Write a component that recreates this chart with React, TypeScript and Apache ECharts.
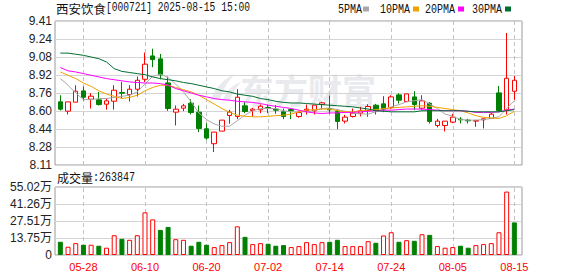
import React, { useEffect, useRef } from "react";
import * as echarts from "echarts";

const dates = ["05-23","05-26","05-27","05-28","05-29","05-30","06-03","06-04","06-05","06-06","06-09","06-10","06-11","06-12","06-13","06-16","06-17","06-18","06-19","06-20","06-23","06-24","06-25","06-26","06-27","06-30","07-01","07-02","07-03","07-04","07-07","07-08","07-09","07-10","07-11","07-14","07-15","07-16","07-17","07-18","07-21","07-22","07-23","07-24","07-25","07-28","07-29","07-30","07-31","08-01","08-04","08-05","08-06","08-07","08-08","08-11","08-12","08-13","08-14","08-15"];
const xTickDates = ["05-28","06-10","06-20","07-02","07-14","07-24","08-05","08-15"];

const opens = [8.68,8.596,8.677,8.779,8.704,8.698,8.659,8.686,8.764,8.746,8.794,8.884,9.095,9.068,8.851,8.587,8.623,8.668,8.587,8.437,8.302,8.416,8.557,8.548,8.644,8.602,8.608,8.629,8.614,8.59,8.61,8.548,8.602,8.599,8.656,8.617,8.593,8.506,8.548,8.578,8.602,8.65,8.662,8.629,8.743,8.683,8.725,8.623,8.668,8.467,8.467,8.497,8.524,8.515,8.506,8.518,8.53,8.761,8.608,8.776];
const closes = [8.614,8.68,8.776,8.722,8.731,8.656,8.689,8.785,8.758,8.794,8.875,9.02,9.062,8.924,8.62,8.614,8.644,8.584,8.44,8.353,8.407,8.515,8.587,8.722,8.593,8.614,8.641,8.62,8.605,8.548,8.6,8.584,8.614,8.65,8.671,8.608,8.503,8.542,8.578,8.6,8.638,8.602,8.614,8.725,8.695,8.752,8.656,8.689,8.503,8.506,8.506,8.542,8.518,8.509,8.512,8.527,8.569,8.602,8.893,8.875];
const highs = [8.74,8.68,8.83,8.818,8.758,8.77,8.71,8.83,8.86,8.83,8.908,9.125,9.16,9.113,8.908,8.647,8.662,8.704,8.647,8.488,8.407,8.515,8.608,8.794,8.677,8.626,8.656,8.656,8.65,8.62,8.62,8.6,8.656,8.65,8.68,8.737,8.614,8.563,8.62,8.635,8.659,8.662,8.731,8.74,8.758,8.752,8.776,8.74,8.677,8.527,8.506,8.572,8.542,8.527,8.518,8.53,8.578,8.824,9.302,8.914];
const lows = [8.602,8.566,8.677,8.692,8.62,8.647,8.61,8.61,8.713,8.683,8.728,8.86,8.993,8.884,8.599,8.467,8.596,8.566,8.407,8.338,8.227,8.416,8.482,8.524,8.578,8.548,8.578,8.578,8.572,8.524,8.524,8.536,8.566,8.566,8.611,8.572,8.434,8.485,8.539,8.548,8.545,8.566,8.587,8.614,8.665,8.683,8.605,8.608,8.485,8.449,8.413,8.488,8.485,8.485,8.455,8.44,8.53,8.593,8.566,8.698];

const ma5 = [8.89,8.83,8.76,8.7,8.7,8.71,8.71,8.72,8.73,8.74,8.77,8.84,8.91,8.93,8.9,8.84,8.77,8.68,8.58,8.52,8.48,8.46,8.46,8.51,8.56,8.6,8.62,8.62,8.62,8.6,8.59,8.59,8.59,8.6,8.62,8.625,8.61,8.595,8.58,8.57,8.57,8.59,8.605,8.635,8.655,8.68,8.69,8.7,8.66,8.62,8.57,8.55,8.52,8.515,8.515,8.52,8.53,8.545,8.62,8.69];
const ma10 = [8.95,8.92,8.89,8.85,8.82,8.78,8.75,8.73,8.71,8.72,8.74,8.78,8.81,8.83,8.83,8.81,8.79,8.77,8.74,8.7,8.66,8.62,8.585,8.56,8.55,8.545,8.545,8.55,8.555,8.56,8.57,8.59,8.605,8.61,8.615,8.615,8.6,8.59,8.59,8.6,8.605,8.61,8.62,8.625,8.63,8.635,8.64,8.645,8.64,8.63,8.62,8.61,8.6,8.58,8.555,8.54,8.535,8.53,8.555,8.595];
const ma20 = [8.99,8.96,8.95,8.935,8.92,8.905,8.89,8.88,8.87,8.86,8.855,8.85,8.85,8.845,8.83,8.8,8.78,8.76,8.74,8.725,8.71,8.7,8.695,8.685,8.68,8.675,8.665,8.65,8.64,8.63,8.62,8.605,8.59,8.58,8.575,8.58,8.58,8.585,8.585,8.59,8.595,8.6,8.605,8.605,8.61,8.615,8.615,8.615,8.61,8.605,8.6,8.6,8.6,8.595,8.585,8.585,8.585,8.59,8.605,8.615];
const ma30 = [9.12,9.12,9.11,9.1,9.085,9.07,9.04,8.98,8.955,8.945,8.935,8.925,8.905,8.89,8.88,8.87,8.855,8.845,8.83,8.815,8.8,8.78,8.77,8.75,8.74,8.73,8.71,8.7,8.685,8.675,8.67,8.67,8.665,8.66,8.655,8.65,8.645,8.64,8.635,8.625,8.615,8.6,8.595,8.59,8.59,8.59,8.59,8.6,8.6,8.6,8.6,8.6,8.6,8.595,8.59,8.59,8.59,8.59,8.6,8.61];

// volume in 万 (10k lots)
const volumes = [10.7,6.7,9.6,8.3,8.3,7.5,5.9,16.0,13.1,12.3,16.0,34.5,28.8,20.3,22.7,12.8,12.3,7.5,10.7,8.3,6.4,8.0,10.4,23.2,14.7,8.8,9.6,9.1,7.5,8.0,6.4,7.2,10.4,8.8,10.4,10.7,12.3,7.2,7.2,7.2,11.2,9.9,15.8,18.4,10.7,12.0,11.5,16.8,16.3,7.2,5.9,6.4,7.5,5.9,8.0,8.8,9.6,18.4,51.3,26.3847];
const volUp = [0,1,1,0,1,0,1,1,0,1,1,1,1,0,0,1,1,0,0,0,1,1,1,1,0,1,1,0,0,0,1,1,1,1,1,0,0,1,1,1,1,0,1,1,0,1,0,1,0,1,1,1,0,0,1,1,1,1,1,0];

const priceMin = 8.11;
const priceMax = 9.41;
const priceStep = 0.1625;
const priceTickLabels = ["8.11","8.28","8.44","8.60","8.76","8.92","9.08","9.24","9.41"];
const volMax = 55.02;
const volStep = 13.755;
const volTickLabels = ["0","13.75万","27.51万","41.26万","55.02万"];

const maNames = ["5PMA","10PMA","20PMA","30PMA"];
const maColors = ["#a8a8a8","#eea200","#ff00ff","#006e32"];

const RED = "#ff0000";
const GREEN = "#008000";
const SANS = "'Liberation Sans', 'Noto Sans CJK SC', sans-serif";
const MONO = "'Liberation Mono', monospace";
const CJK = "'Noto Sans CJK SC', sans-serif";

echarts.graphic.registerShape(
  "logo",
  echarts.graphic.extendPath(
    "M0 26 C3 15 11 6 24 0 C17 7 12 15 9 26 Z M12 26 C15 17 21 11 30 8 C25 14 21 19 19 26 Z",
    {}
  ) as any
);

export default function App() {
  const ref = useRef<HTMLDivElement>(null);
  useEffect(() => {
    const chart = echarts.init(ref.current!, null, { renderer: "svg" });
    const kData = dates.map((_, i) => [opens[i], closes[i], lows[i], highs[i]]);
    const vData = volumes.map((v, i) => ({
      value: v,
      itemStyle: volUp[i]
        ? { color: "#ffffff", borderColor: RED, borderWidth: 1 }
        : { color: GREEN, borderColor: GREEN, borderWidth: 1 },
    }));
    const markLine = {
      silent: true,
      symbol: ["none", "none"],
      label: { show: false },
      z: 1,
      lineStyle: { type: [4, 3], color: "#c4c4c4", width: 1 },
      emphasis: { disabled: true },
      data: xTickDates.map((d) => ({ xAxis: d })),
    };
    const mas = [ma5, ma10, ma20, ma30];
    const legendX = [338, 380, 425, 472];
    const swatchX = [363, 413, 458, 505];
    const graphic: any[] = [
      {
        type: "logo", x: 211, y: 74, z: 0, silent: true,
        style: { fill: "#e9eaee" },
      },
      {
        type: "text", x: 240, y: 89, z: 0, silent: true,
        style: { text: "东方财富", font: `bold 34px ${CJK}`, fill: "#e9eaee", verticalAlign: "middle", lineHeight: 36 },
      },
      {
        type: "text", x: 56, y: 8, style: { text: "西安饮食", font: `12.5px ${CJK}`, fill: "#111", verticalAlign: "middle", lineHeight: 13 },
      },
      {
        type: "text", x: 106, y: 8, scaleY: 1.3,
        style: { text: "[000721] 2025-08-15 15:00", font: `9.6px ${MONO}`, fill: "#111", verticalAlign: "middle", lineHeight: 10 },
      },
      {
        type: "text", x: 57, y: 177, style: { text: "成交量", font: `12px ${CJK}`, fill: "#111", verticalAlign: "middle", lineHeight: 13 },
      },
      {
        type: "text", x: 93, y: 177, scaleY: 1.3,
        style: { text: ":263847", font: `10px ${MONO}`, fill: "#111", verticalAlign: "middle", lineHeight: 10 },
      },
    ];
    maNames.forEach((n, i) => {
      graphic.push({
        type: "text", x: legendX[i], y: 9, scaleY: 1.3,
        style: { text: n, font: `10px ${MONO}`, fill: "#111", verticalAlign: "middle", lineHeight: 10 },
      });
      graphic.push({
        type: "rect", shape: { x: swatchX[i], y: 6.5, width: 6, height: 5 },
        style: { fill: maColors[i] },
      });
    });

    const option: any = {
      animation: false,
      backgroundColor: "#ffffff",
      grid: [
        { left: 55, top: 21, width: 467, height: 144, show: true, borderColor: "#9a9a9a", borderWidth: 1, backgroundColor: "transparent" },
        { left: 56.5, top: 21, width: 461.7, height: 144 },
        { left: 55, top: 187, width: 467, height: 68, show: true, borderColor: "#9a9a9a", borderWidth: 1, backgroundColor: "transparent" },
        { left: 56.5, top: 187, width: 461.7, height: 68 },
      ],
      xAxis: [
        { gridIndex: 0, type: "value", min: 0, max: 1, show: false },
        { gridIndex: 1, type: "category", data: dates, show: false },
        { gridIndex: 2, type: "value", min: 0, max: 1, show: false },
        {
          gridIndex: 3, type: "category", data: dates,
          axisLine: { show: false }, axisTick: { show: false }, splitLine: { show: false },
          axisLabel: {
            interval: (_i: number, v: string) => xTickDates.includes(v),
            color: RED, fontSize: 11, fontFamily: SANS, margin: 6,
          },
        },
      ],
      yAxis: [
        {
          gridIndex: 0, type: "value", min: priceMin, max: priceMax, interval: priceStep,
          axisLine: { show: false }, axisTick: { show: false },
          axisLabel: {
            color: "#222", fontSize: 12, fontFamily: SANS, margin: 3,
            formatter: (v: number) => priceTickLabels[Math.round((v - priceMin) / priceStep)] ?? "",
          },
          splitLine: { lineStyle: { color: "#d4d4d4", width: 1 } },
        },
        { gridIndex: 1, type: "value", min: priceMin, max: priceMax, show: false },
        {
          gridIndex: 2, type: "value", min: 0, max: volMax, interval: volStep,
          axisLine: { show: false }, axisTick: { show: false },
          axisLabel: {
            color: "#222", fontSize: 12, fontFamily: SANS, margin: 3,
            formatter: (v: number) => volTickLabels[Math.round(v / volStep)] ?? "",
          },
          splitLine: { lineStyle: { color: "#d4d4d4", width: 1 } },
        },
        { gridIndex: 3, type: "value", min: 0, max: volMax, show: false },
      ],
      series: [
        {
          type: "candlestick", name: "K", xAxisIndex: 1, yAxisIndex: 1, data: kData,
          barWidth: 5, z: 2,
          itemStyle: { color: "#ffffff", color0: GREEN, borderColor: RED, borderColor0: GREEN, borderWidth: 1 },
          markLine,
        },
        ...mas.map((d, i) => ({
          type: "line", name: maNames[i], xAxisIndex: 1, yAxisIndex: 1, data: d,
          showSymbol: false, symbol: "none", z: 3, silent: true,
          lineStyle: { width: 1, color: maColors[i] }, itemStyle: { color: maColors[i] },
        })),
        {
          type: "bar", name: "VOL", xAxisIndex: 3, yAxisIndex: 3, data: vData,
          barWidth: 5, z: 2, markLine,
        },
      ],
      graphic,
    };
    chart.setOption(option);
    return () => chart.dispose();
  }, []);
  return <div ref={ref} style={{ position: "absolute", left: 0, top: 0, width: 578, height: 276 }} />;
}
